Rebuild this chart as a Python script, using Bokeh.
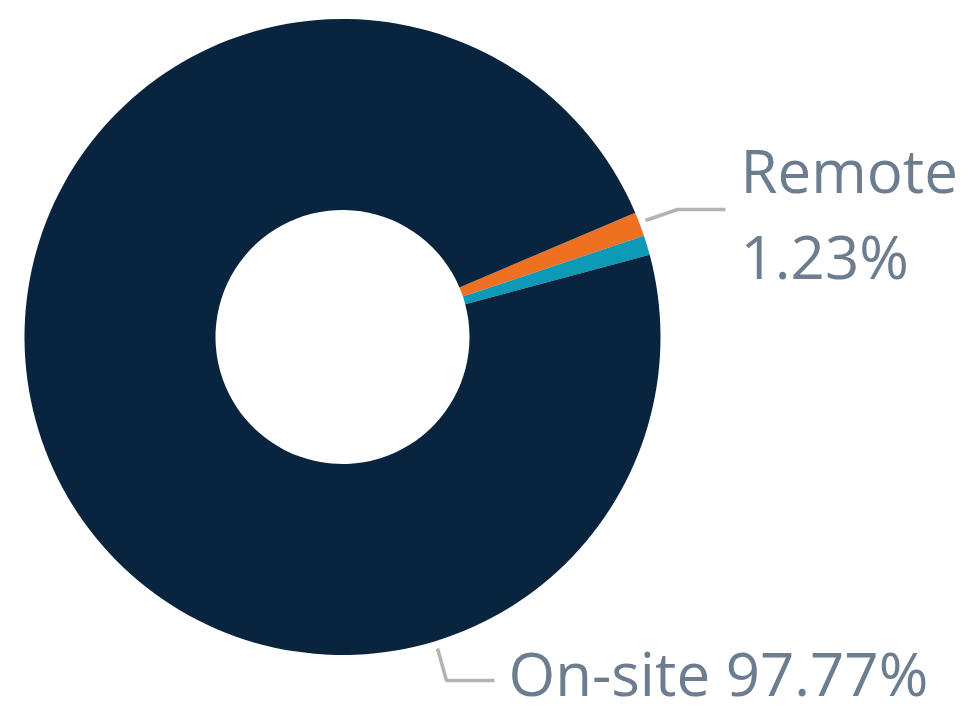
import numpy as np
from bokeh.plotting import figure
from bokeh.models import Range1d, ColumnDataSource
from bokeh.core.properties import value
from bokeh.embed import file_html
from bokeh.resources import INLINE

# Data
categories = ["Remote", "Other", "On-site"]
percent = [1.23, 1.00, 97.77]
colors = ["#f07021", "#0e9ab6", "#08243e"]
label_lines = [["Remote", "1.23%"], [], ["On-site 97.77%"]]

W, H = 968, 713
cx, cy = 342, H - 336.5
r_out, r_in = 318, 127
start_deg = 23.0  # clockwise start

p = figure(width=W, height=H, output_backend="svg", toolbar_location=None,
           x_range=Range1d(0, W), y_range=Range1d(0, H), min_border=0)
p.axis.visible = False
p.grid.visible = False
p.outline_line_color = None
p.background_fill_color = "white"

vals = np.array(percent)
ang = vals / vals.sum() * 2 * np.pi
cum = np.concatenate([[0], np.cumsum(ang)])
s0 = np.deg2rad(start_deg)
starts_cw = s0 - cum[:-1]
ends_cw = s0 - cum[1:]
src = ColumnDataSource(dict(x=[cx] * 3, y=[cy] * 3,
                            start=ends_cw, end=starts_cw, color=colors, cat=categories))
p.annular_wedge(x="x", y="y", inner_radius=r_in, outer_radius=r_out,
                start_angle="start", end_angle="end", fill_color="color",
                line_color=None, source=src)

# leader lines
lc = "#b3b3b3"
p.line([645, 677, 725], [H - 220, H - 209, H - 209], line_color=lc, line_width=3.5)
p.line([437, 446, 494], [H - 648, H - 680, H - 680], line_color=lc, line_width=3.5)

tc = "#6c7d8f"
font = value("Open Sans")
off = 25
p.text(x=[740, 740], y=[H - 194 + off, H - 280 + off], text=label_lines[0],
       text_font=font, text_font_size="60px", text_color=tc,
       text_baseline="alphabetic", text_align="left")
p.text(x=[508], y=[H - 697 + off], text=label_lines[2],
       text_font=font, text_font_size="60px", text_color=tc,
       text_baseline="alphabetic", text_align="left")

open("out.html", "w").write(file_html(p, INLINE))
